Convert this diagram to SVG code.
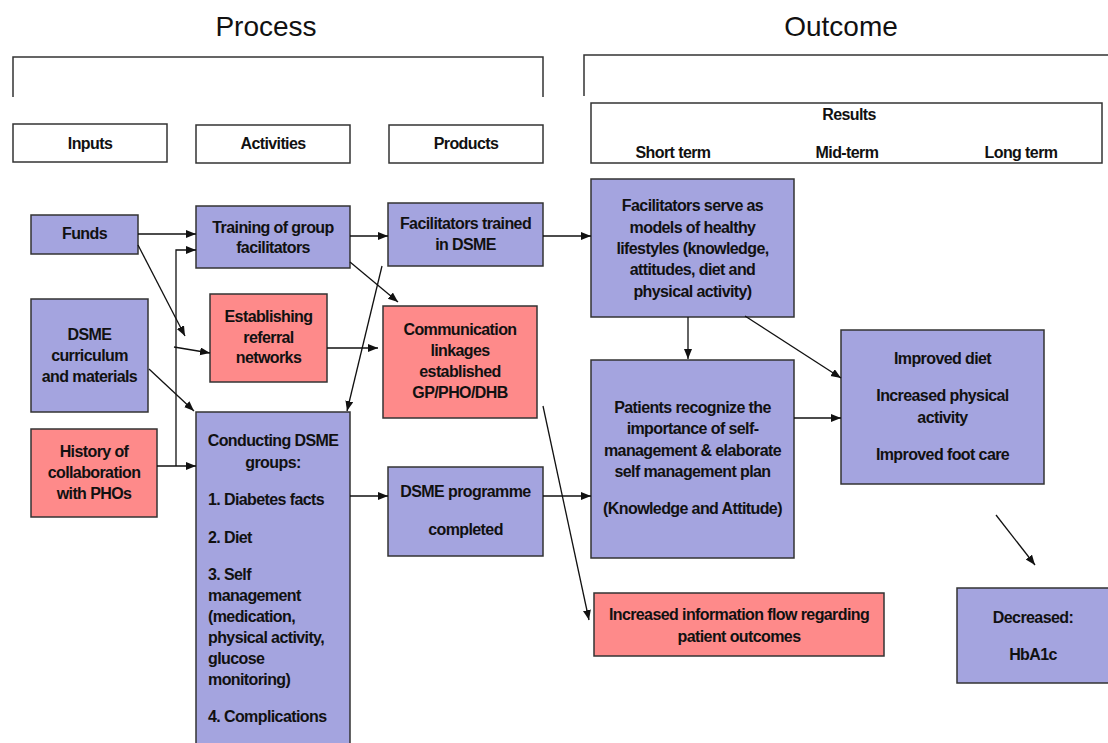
<svg xmlns="http://www.w3.org/2000/svg" width="1108" height="743" viewBox="0 0 1108 743">
<style>
  .bg { fill: #ffffff; }
  .hdr { fill: #ffffff; stroke: #333333; stroke-width: 1.5; }
  .blue { fill: #a4a4df; stroke: #333333; stroke-width: 1.5; }
  .red { fill: #fe8a8a; stroke: #333333; stroke-width: 1.5; }
  .br { fill: none; stroke: #333333; stroke-width: 1.5; }
  .ln { fill: none; stroke: #111111; stroke-width: 1.3; }
  .t { font-family: "Liberation Sans", Arial, sans-serif; font-weight: bold; font-size: 16px; letter-spacing: -0.6px; fill: #111111; text-anchor: middle; }
  .tl { text-anchor: start; }
  .title { font-family: "Liberation Sans", Arial, sans-serif; font-size: 28px; fill: #111111; text-anchor: middle; }
</style>
<defs>
  <marker id="ah" markerUnits="userSpaceOnUse" markerWidth="11" markerHeight="9" refX="10" refY="4" orient="auto">
    <path d="M0,0 L10,4 L0,8 z" fill="#111111"/>
  </marker>
</defs>
<rect class="bg" x="0" y="0" width="1108" height="743"/>

<g id="titles">
  <text class="title" x="266" y="36">Process</text>
  <text class="title" x="841" y="36">Outcome</text>
  <path class="br" d="M13,97 L13,57 L543,57 L543,97"/>
  <path class="br" d="M584,96 L584,55 L1110,55"/>
</g>

<g id="inputs-hdr">
  <rect class="hdr" x="13" y="124" width="154" height="38"/>
  <text class="t" x="90" y="149">Inputs</text>
</g>
<g id="activities-hdr">
  <rect class="hdr" x="196" y="125" width="154" height="38"/>
  <text class="t" x="273" y="149">Activities</text>
</g>
<g id="products-hdr">
  <rect class="hdr" x="389" y="125" width="154" height="38"/>
  <text class="t" x="466" y="149">Products</text>
</g>
<g id="results-hdr">
  <rect class="hdr" x="591" y="103" width="511" height="60"/>
  <text class="t" x="849" y="120">Results</text>
  <text class="t" x="673" y="158">Short term</text>
  <text class="t" x="847" y="158">Mid-term</text>
  <text class="t" x="1021" y="158">Long term</text>
</g>

<g id="funds">
  <rect class="blue" x="31" y="215" width="107" height="39"/>
  <text class="t" x="84.5" y="239">Funds</text>
</g>
<g id="dsme-curriculum">
  <rect class="blue" x="31" y="299" width="117" height="113"/>
  <text class="t" x="89.5" y="340">DSME</text>
  <text class="t" x="89.5" y="361">curriculum</text>
  <text class="t" x="89.5" y="382">and materials</text>
</g>
<g id="history">
  <rect class="red" x="31" y="429" width="126" height="88"/>
  <text class="t" x="94" y="457">History of</text>
  <text class="t" x="94" y="478">collaboration</text>
  <text class="t" x="94" y="499">with PHOs</text>
</g>

<g id="training">
  <rect class="blue" x="196" y="206" width="154" height="62"/>
  <text class="t" x="273" y="233">Training of group</text>
  <text class="t" x="273" y="253">facilitators</text>
</g>
<g id="establishing">
  <rect class="red" x="210" y="294" width="117" height="88"/>
  <text class="t" x="268.5" y="322">Establishing</text>
  <text class="t" x="268.5" y="343">referral</text>
  <text class="t" x="268.5" y="363">networks</text>
</g>
<g id="conducting">
  <rect class="blue" x="196" y="412" width="154" height="340"/>
  <text class="t" x="273" y="446">Conducting DSME</text>
  <text class="t" x="273" y="468">groups:</text>
  <text class="t tl" x="208" y="505">1. Diabetes facts</text>
  <text class="t tl" x="208" y="543">2. Diet</text>
  <text class="t tl" x="208" y="580">3. Self</text>
  <text class="t tl" x="208" y="601">management</text>
  <text class="t tl" x="208" y="622">(medication,</text>
  <text class="t tl" x="208" y="643">physical activity,</text>
  <text class="t tl" x="208" y="664">glucose</text>
  <text class="t tl" x="208" y="685">monitoring)</text>
  <text class="t tl" x="208" y="722">4. Complications</text>
</g>

<g id="facilitators-trained">
  <rect class="blue" x="388" y="203" width="155" height="63"/>
  <text class="t" x="465.5" y="229">Facilitators trained</text>
  <text class="t" x="465.5" y="250">in DSME</text>
</g>
<g id="communication">
  <rect class="red" x="383" y="306" width="154" height="112"/>
  <text class="t" x="460" y="335">Communication</text>
  <text class="t" x="460" y="356">linkages</text>
  <text class="t" x="460" y="377">established</text>
  <text class="t" x="460" y="398">GP/PHO/DHB</text>
</g>
<g id="dsme-programme">
  <rect class="blue" x="388" y="467" width="155" height="89"/>
  <text class="t" x="465.5" y="497">DSME programme</text>
  <text class="t" x="465.5" y="535">completed</text>
</g>

<g id="facilitators-serve">
  <rect class="blue" x="591" y="179" width="203" height="138"/>
  <text class="t" x="692.5" y="211">Facilitators serve as</text>
  <text class="t" x="692.5" y="233">models of healthy</text>
  <text class="t" x="692.5" y="254">lifestyles (knowledge,</text>
  <text class="t" x="692.5" y="275">attitudes, diet and</text>
  <text class="t" x="692.5" y="297">physical activity)</text>
</g>
<g id="patients">
  <rect class="blue" x="591" y="360" width="203" height="198"/>
  <text class="t" x="692.5" y="413">Patients recognize the</text>
  <text class="t" x="692.5" y="434">importance of self-</text>
  <text class="t" x="692.5" y="456">management &amp; elaborate</text>
  <text class="t" x="692.5" y="477">self management plan</text>
  <text class="t" x="692.5" y="514">(Knowledge and Attitude)</text>
</g>
<g id="increased-info">
  <rect class="red" x="594" y="593" width="290" height="63"/>
  <text class="t" x="739" y="620">Increased information flow regarding</text>
  <text class="t" x="739" y="642">patient outcomes</text>
</g>
<g id="improved">
  <rect class="blue" x="841" y="330" width="203" height="154"/>
  <text class="t" x="942.5" y="364">Improved diet</text>
  <text class="t" x="942.5" y="401">Increased physical</text>
  <text class="t" x="942.5" y="423">activity</text>
  <text class="t" x="942.5" y="460">Improved foot care</text>
</g>
<g id="decreased">
  <rect class="blue" x="957" y="588" width="160" height="95"/>
  <text class="t" x="1033" y="623">Decreased:</text>
  <text class="t" x="1033" y="660">HbA1c</text>
</g>

<g id="connectors">
  <path class="ln" d="M138,234 L196,234" marker-end="url(#ah)"/>
  <path class="ln" d="M138,245 L185,336" marker-end="url(#ah)"/>
  <path class="ln" d="M157,466 L196,466" marker-end="url(#ah)"/>
  <path class="ln" d="M176,466 L176,250 L196,250" marker-end="url(#ah)"/>
  <path class="ln" d="M174,347 L210,353" marker-end="url(#ah)"/>
  <path class="ln" d="M149,369 L194,411" marker-end="url(#ah)"/>
  <path class="ln" d="M350,236 L388,236" marker-end="url(#ah)"/>
  <path class="ln" d="M350,262 L398,302" marker-end="url(#ah)"/>
  <path class="ln" d="M382,266 L347,411" marker-end="url(#ah)"/>
  <path class="ln" d="M327,348 L378,348" marker-end="url(#ah)"/>
  <path class="ln" d="M543,236 L591,236" marker-end="url(#ah)"/>
  <path class="ln" d="M688,317 L688,359" marker-end="url(#ah)"/>
  <path class="ln" d="M745,316 L841,378" marker-end="url(#ah)"/>
  <path class="ln" d="M794,418 L841,418" marker-end="url(#ah)"/>
  <path class="ln" d="M543,406 L589,620" marker-end="url(#ah)"/>
  <path class="ln" d="M350,496 L388,496" marker-end="url(#ah)"/>
  <path class="ln" d="M543,496 L591,496" marker-end="url(#ah)"/>
  <path class="ln" d="M996,515 L1035,565" marker-end="url(#ah)"/>
</g>
</svg>
